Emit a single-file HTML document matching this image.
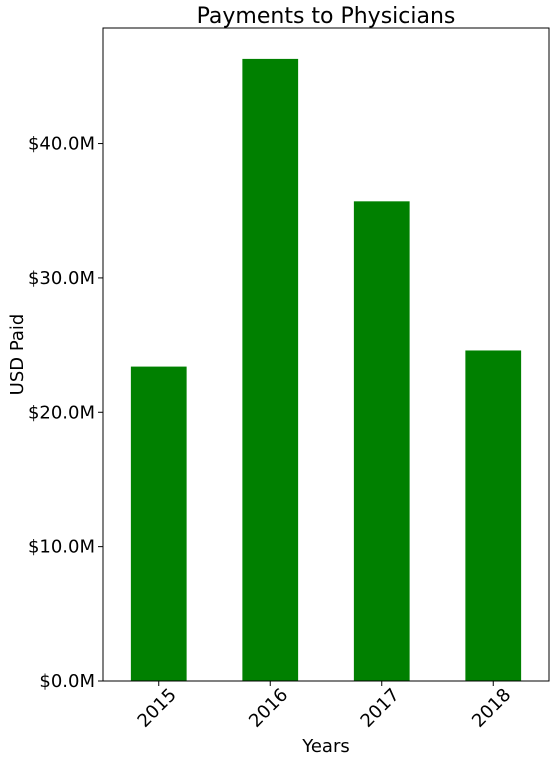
<!DOCTYPE html>
<html><head><meta charset="utf-8">
<style>
html,body{margin:0;padding:0;background:#fff;}
svg{display:block;font-family:"DejaVu Sans","Liberation Sans",sans-serif;}
</style></head>
<body>
<svg id="chart" width="556" height="762"></svg>
<script>
const categories = ["2015","2016","2017","2018"];
const values = [23.4, 46.3, 35.7, 24.6];
const yTicks = [0, 10, 20, 30, 40];
const yTickLabels = ["$0.0M","$10.0M","$20.0M","$30.0M","$40.0M"];
const yMax = 48.6;

const L=103, R=549, T=28, B=681;
const NS="http://www.w3.org/2000/svg";
const svg=document.getElementById('chart');
function el(tag, attrs, parent){const e=document.createElementNS(NS,tag);for(const k in attrs)e.setAttribute(k,attrs[k]);(parent||svg).appendChild(e);return e;}
const unit=(R-L)/categories.length;
function xScale(i){return L+unit*(i+0.5);}
function yScale(v){return B-(v/yMax)*(B-T);}

categories.forEach((c,i)=>{
  const w=unit*0.5;
  const r=el('rect',{x:xScale(i)-w/2,y:yScale(values[i]),width:w,height:B-yScale(values[i]),fill:'#008000'});
  
  
  const t=el('line',{x1:xScale(i),x2:xScale(i),y1:B,y2:B+5,stroke:'#000','stroke-width':1});
  
  
  const lx=xScale(i), ly=B+10;
  const lab=el('text',{x:lx,y:ly,'font-size':18,'text-anchor':'end','dominant-baseline':'hanging',transform:`rotate(-45 ${lx+8} ${ly}) translate(12 -2)`});
  lab.textContent=c;
  
  
});
yTicks.forEach((v,i)=>{
  const y=yScale(v);
  const t=el('line',{x1:L-5,x2:L,y1:y,y2:y,stroke:'#000','stroke-width':1});
  
  
  const lab=el('text',{x:L-8,y:y+6,'font-size':18,'text-anchor':'end'});
  lab.textContent=yTickLabels[i];
  
  
});
const frame=el('rect',{x:L,y:T,width:R-L,height:B-T,fill:'none',stroke:'#000','stroke-width':1});


const title=el('text',{x:(L+R)/2,y:23,'font-size':22,'text-anchor':'middle'});
title.textContent='Payments to Physicians';


const xt=el('text',{x:(L+R)/2,y:752,'font-size':18,'text-anchor':'middle'});
xt.textContent='Years';


const yt=el('text',{x:23,y:(T+B)/2,'font-size':18,'text-anchor':'middle',transform:`rotate(-90 23 ${(T+B)/2})`});
yt.textContent='USD Paid';


</script>
</body></html>
